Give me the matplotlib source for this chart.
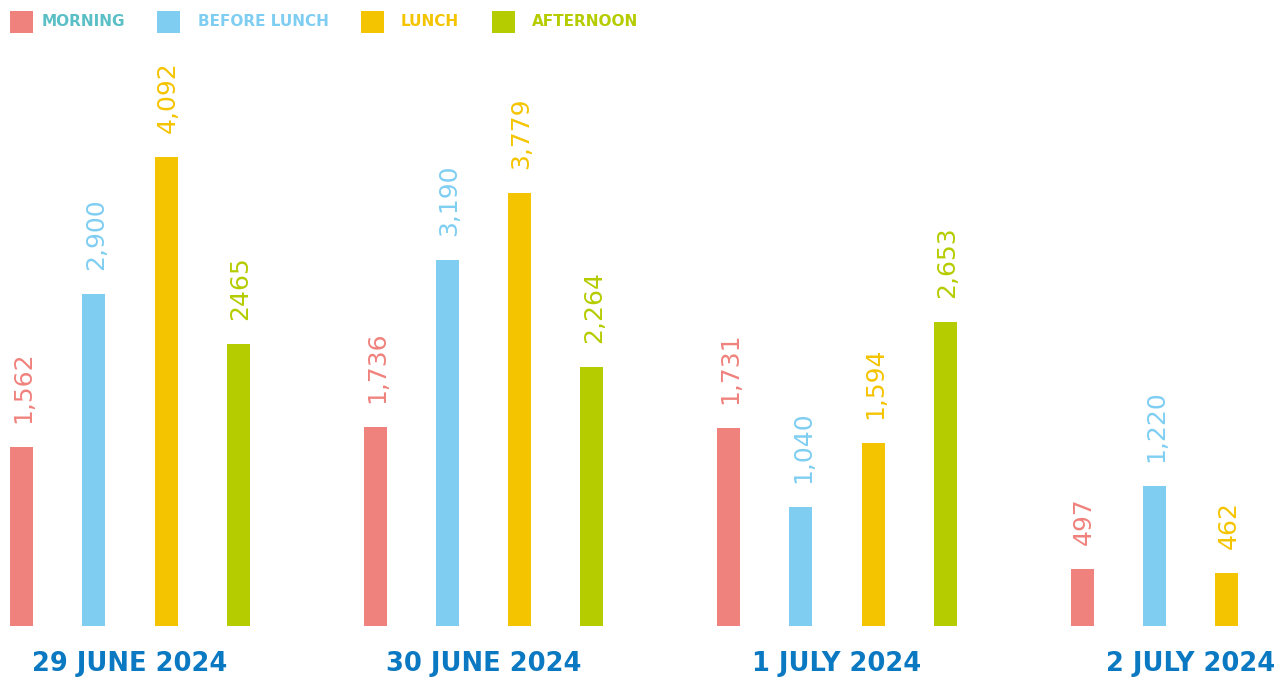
import matplotlib
matplotlib.use("Agg")
import matplotlib.pyplot as plt
from matplotlib.patches import Rectangle
import numpy as np

# data
dates = ["29 JUNE 2024", "30 JUNE 2024", "1 JULY 2024", "2 JULY 2024"]
series = ["MORNING", "BEFORE LUNCH", "LUNCH", "AFTERNOON"]
morning = [1562, 1736, 1731, 497]
before_lunch = [2900, 3190, 1040, 1220]
lunch = [4092, 3779, 1594, 462]
afternoon = [2465, 2264, 2653, None]
# labels as printed on the chart
morning_lbl = ["1,562", "1,736", "1,731", "497"]
before_lunch_lbl = ["2,900", "3,190", "1,040", "1,220"]
lunch_lbl = ["4,092", "3,779", "1,594", "462"]
afternoon_lbl = ["2465", "2,264", "2,653", None]

bar_colors = ["#F0827D", "#7FCEF2", "#F5C400", "#B5CC00"]
text_colors = ["#5BBFC6", "#7FCEF2", "#F5C400", "#B5CC00"]
date_color = "#0B79C2"

W, H = 1279, 677
fig = plt.figure(figsize=(W / 100, H / 100), dpi=100)
base_px = 626
px_per_unit = 0.1146
ax = fig.add_axes([0, (H - base_px) / H, 1, base_px / H])
ax.set_xlim(-21.5, W - 21.5)
ax.set_ylim(0, base_px / px_per_unit)

group_step = 353.5
bar_step = 72.3
bar_w = 23

all_vals = [morning, before_lunch, lunch, afternoon]
all_lbls = [morning_lbl, before_lunch_lbl, lunch_lbl, afternoon_lbl]
for j, (vals, lbls) in enumerate(zip(all_vals, all_lbls)):
    for i, (v, l) in enumerate(zip(vals, lbls)):
        if v is None:
            continue
        x = i * group_step + j * bar_step
        ax.bar(x, v, width=bar_w, color=bar_colors[j], linewidth=0)
        ax.text(x + 2, v + 24 / px_per_unit, l, rotation=90, ha="center", va="bottom",
                color=bar_colors[j], fontsize=18, family="DejaVu Sans")

centers = np.arange(len(dates)) * group_step + 1.5 * bar_step
for c, d in zip(centers, dates):
    ax.text(c, -38 / px_per_unit, d, ha="center", va="center", color=date_color,
            fontsize=18.5, fontweight="bold", family="DejaVu Sans", clip_on=False)

ax.axis("off")

# legend drawn by hand (pixel positions of square and text)
sq_x = [10, 157, 361, 492]
txt_x = [42, 198, 401, 532]
for s, name, sx, tx, bc, tc in zip(range(4), series, sq_x, txt_x, bar_colors, text_colors):
    fig.patches.append(Rectangle((sx / W, 1 - 33 / H), 23 / W, 22 / H,
                                 transform=fig.transFigure, facecolor=bc, edgecolor="none"))
    fig.text(tx / W, 1 - 21.5 / H, name, ha="left", va="center", color=tc,
             fontsize=11, fontweight="bold")

fig.savefig("out.png", dpi=100)
